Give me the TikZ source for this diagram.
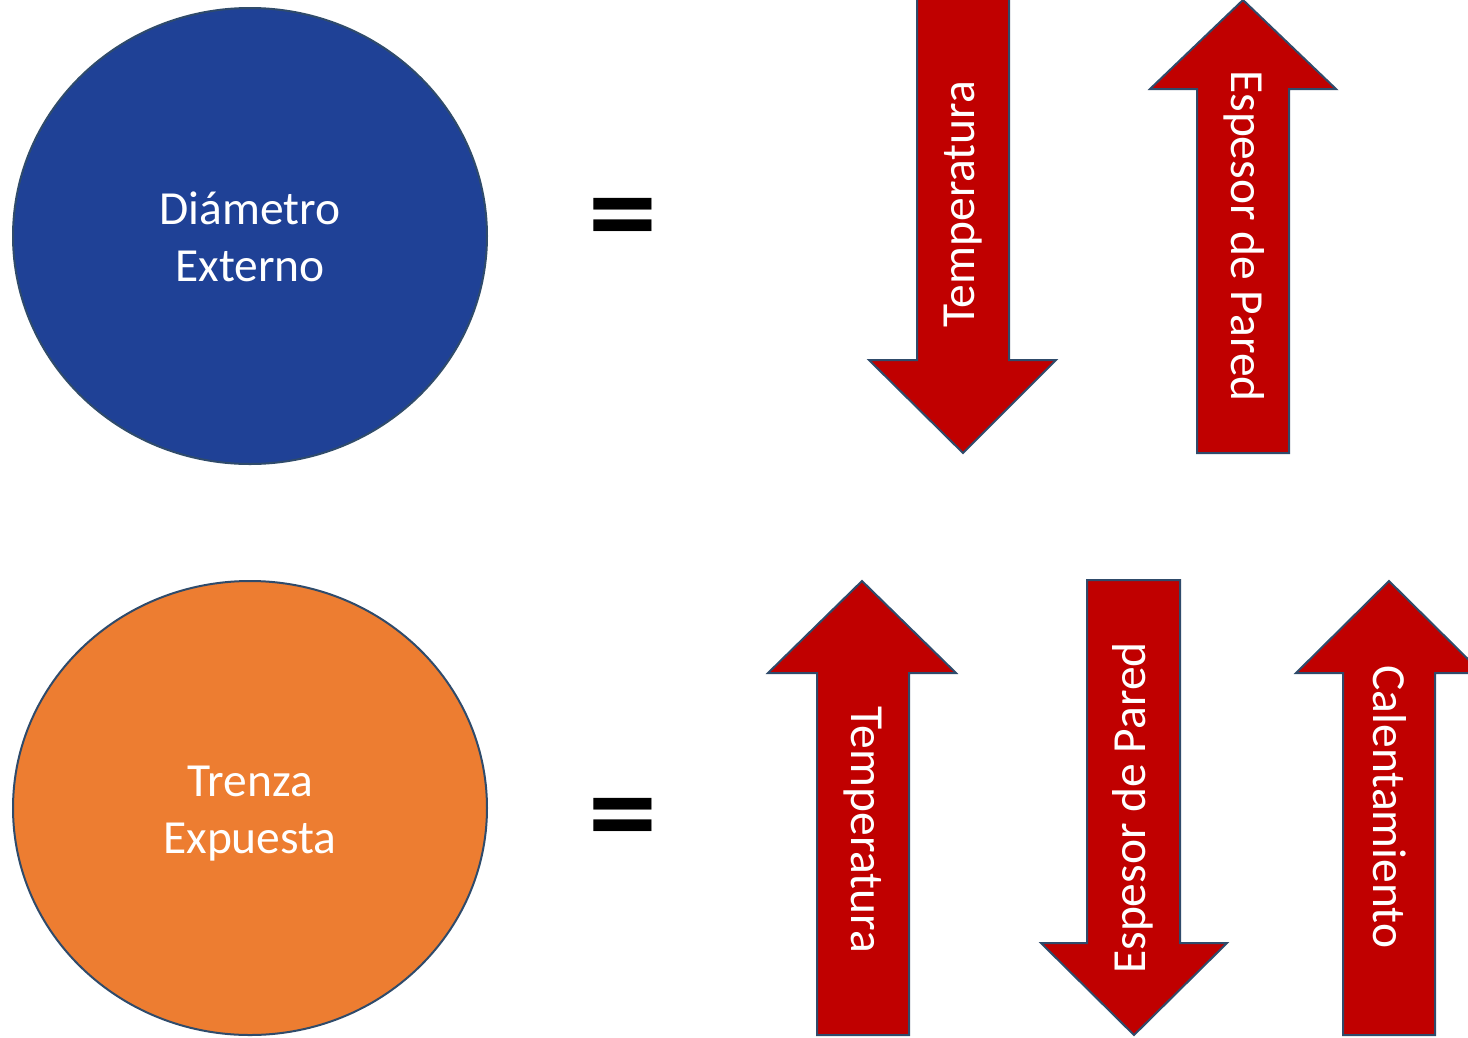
\documentclass[tikz,border=0pt]{standalone}
\usepackage{fontspec}
\setmainfont{Carlito}
\definecolor{cblue}{HTML}{1F4196}
\definecolor{corange}{HTML}{ED7D31}
\definecolor{cred}{HTML}{C00000}
\definecolor{cedge}{HTML}{2F4B6B}
\tikzset{
  blob/.style={draw=cedge, line width=2pt},
  arrowshape/.style={fill=cred, draw=cedge, line width=2pt, line join=miter},
  lbl/.style={text=white, font=\fontsize{47.5}{57}\selectfont, align=center, inner sep=0pt},
  eqsign/.style={font=\fontsize{128}{128}\selectfont\bfseries, inner sep=0pt, xscale=1.08}
}
\begin{document}
\begin{tikzpicture}[x=1pt,y=-1pt]
\useasboundingbox (0,0) rectangle (1468,1037);
\clip (0,0) rectangle (1468,1037);
% circles
\draw[blob, fill=cblue] (250,236) ellipse [x radius=237, y radius=228];
\node[lbl] (c1) at (250,237) {Diámetro\\Externo};
\draw[blob, fill=corange] (250,808) ellipse [x radius=237, y radius=227];
\node[lbl] (c2) at (250,814) {Trenza\\Expuesta};
% equals
\node[eqsign] (eq1) at (623,227) {=};
\node[eqsign] (eq2) at (623,827) {=};
% top arrows
\draw[arrowshape] (917,-6) -- (917,360) -- (869,360) -- (963,453) -- (1056,360) -- (1009,360) -- (1009,-6);
\node[lbl, rotate=90] (t1) at (963,204) {Temperatura};
\draw[arrowshape] (1243,0) -- (1336,89) -- (1289,89) -- (1289,453) -- (1197,453) -- (1197,89) -- (1150,89) -- cycle;
\node[lbl, rotate=-90] (t2) at (1244,236) {Espesor de Pared};
% bottom arrows
\draw[arrowshape] (862,581) -- (956,673) -- (909,673) -- (909,1035) -- (817,1035) -- (817,673) -- (768,673) -- cycle;
\node[lbl, rotate=-90] (b1) at (863,830) {Temperatura};
\draw[arrowshape] (1087,580) -- (1180,580) -- (1180,943) -- (1227,943) -- (1134,1035) -- (1041,943) -- (1087,943) -- cycle;
\node[lbl, rotate=90] (b2) at (1133,808) {Espesor de Pared};
\draw[arrowshape] (1389,581) -- (1482,673) -- (1435,673) -- (1435,1035) -- (1343,1035) -- (1343,673) -- (1296,673) -- cycle;
\node[lbl, rotate=-90] (b3) at (1390,807) {Calentamiento};
\end{tikzpicture}
\end{document}
